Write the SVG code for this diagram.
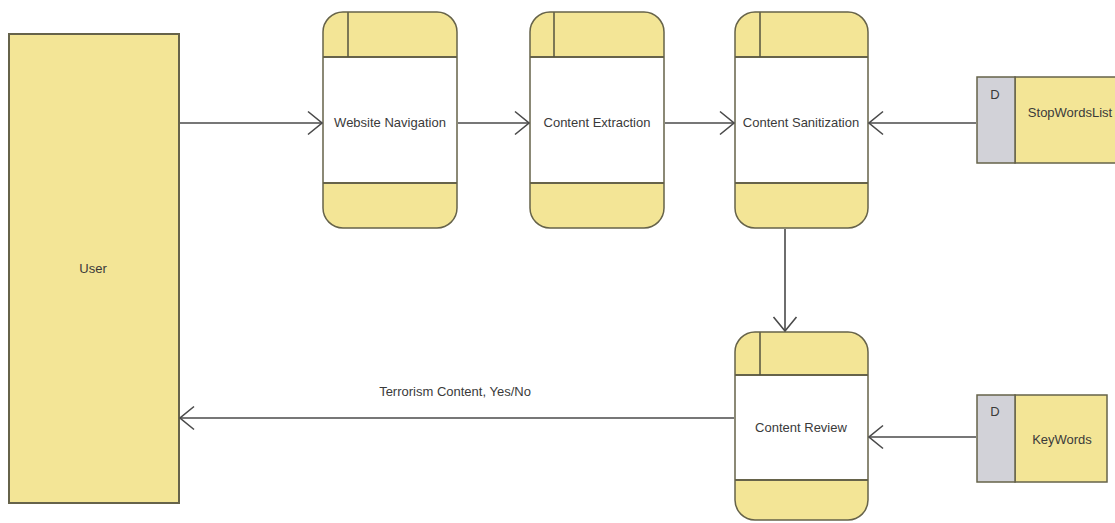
<svg xmlns="http://www.w3.org/2000/svg" width="1115" height="523" viewBox="0 0 1115 523">
  <style>
    .ext { fill: #f3e596; stroke: #66634a; stroke-width: 2; }
    .band { fill: #f3e596; }
    .edge { stroke: #66634a; stroke-width: 2; fill: none; }
    .thin { stroke: #55533e; stroke-width: 1.5; fill: none; }
    .outline { fill: none; stroke: #66634a; stroke-width: 1.5; }
    .ds-id { fill: #d2d2d8; stroke: #66634a; stroke-width: 1.5; }
    .ds-name { fill: #f3e596; stroke: #66634a; stroke-width: 1.5; }
    .lbl { font-family: "Liberation Sans", Arial, sans-serif; font-size: 13px; fill: #3a3a3a; text-anchor: middle; }
    .conn { stroke: #4a4a4a; stroke-width: 1.6; fill: none; }
  </style>
  <defs>
    <!-- open chevron used at the head of every data flow -->
    <marker id="open" viewBox="0 0 16 26" refX="15" refY="13" markerWidth="16" markerHeight="26" markerUnits="userSpaceOnUse" orient="auto">
      <path d="M1,1.5 L15,13 L1,24.5" fill="none" stroke="#4a4a4a" stroke-width="1.6"/>
    </marker>
  </defs>

  <rect width="1115" height="523" fill="#ffffff"/>

  <!-- external entity -->
  <g id="user">
    <rect class="ext" x="9" y="34" width="170" height="469"/>
    <text class="lbl" x="93" y="273">User</text>
  </g>

  <!-- processes -->
  <g id="website-navigation">
    <clipPath id="c1"><rect x="323" y="12" width="134" height="216" rx="20"/></clipPath>
    <g clip-path="url(#c1)">
      <rect x="323" y="12" width="134" height="216" fill="#ffffff"/>
      <rect class="band" x="323" y="12" width="134" height="45"/>
      <rect class="band" x="323" y="183" width="134" height="45"/>
    </g>
    <line class="edge" x1="323" y1="57" x2="457" y2="57"/>
    <line class="edge" x1="323" y1="183" x2="457" y2="183"/>
    <line class="thin" x1="348" y1="12" x2="348" y2="57"/>
    <rect class="outline" x="323" y="12" width="134" height="216" rx="20"/>
    <text class="lbl" x="390" y="127">Website Navigation</text>
  </g>

  <g id="content-extraction">
    <clipPath id="c2"><rect x="530" y="12" width="134" height="216" rx="20"/></clipPath>
    <g clip-path="url(#c2)">
      <rect x="530" y="12" width="134" height="216" fill="#ffffff"/>
      <rect class="band" x="530" y="12" width="134" height="45"/>
      <rect class="band" x="530" y="183" width="134" height="45"/>
    </g>
    <line class="edge" x1="530" y1="57" x2="664" y2="57"/>
    <line class="edge" x1="530" y1="183" x2="664" y2="183"/>
    <line class="thin" x1="554" y1="12" x2="554" y2="57"/>
    <rect class="outline" x="530" y="12" width="134" height="216" rx="20"/>
    <text class="lbl" x="597" y="127">Content Extraction</text>
  </g>

  <g id="content-sanitization">
    <clipPath id="c3"><rect x="735" y="12" width="133" height="216" rx="20"/></clipPath>
    <g clip-path="url(#c3)">
      <rect x="735" y="12" width="133" height="216" fill="#ffffff"/>
      <rect class="band" x="735" y="12" width="133" height="45"/>
      <rect class="band" x="735" y="183" width="133" height="45"/>
    </g>
    <line class="edge" x1="735" y1="57" x2="868" y2="57"/>
    <line class="edge" x1="735" y1="183" x2="868" y2="183"/>
    <line class="thin" x1="760" y1="12" x2="760" y2="57"/>
    <rect class="outline" x="735" y="12" width="133" height="216" rx="20"/>
    <text class="lbl" x="801" y="127">Content Sanitization</text>
  </g>

  <g id="content-review">
    <clipPath id="c4"><rect x="735" y="332" width="133" height="188" rx="20"/></clipPath>
    <g clip-path="url(#c4)">
      <rect x="735" y="332" width="133" height="188" fill="#ffffff"/>
      <rect class="band" x="735" y="332" width="133" height="43"/>
      <rect class="band" x="735" y="479" width="133" height="41"/>
    </g>
    <line class="edge" x1="735" y1="375" x2="868" y2="375"/>
    <line class="edge" x1="735" y1="480" x2="868" y2="480" stroke-width="3"/>
    <line class="thin" x1="760" y1="332" x2="760" y2="375"/>
    <rect class="outline" x="735" y="332" width="133" height="188" rx="20"/>
    <text class="lbl" x="801" y="432">Content Review</text>
  </g>

  <!-- data stores -->
  <g id="stopwordslist">
    <rect class="ds-name" x="1015" y="77" width="110" height="86"/>
    <rect class="ds-id" x="977" y="77" width="38" height="86"/>
    <text class="lbl" x="995" y="99" font-size="12">D</text>
    <text class="lbl" x="1070" y="117">StopWordsList</text>
  </g>

  <g id="keywords">
    <rect class="ds-name" x="1015" y="395" width="92" height="87"/>
    <rect class="ds-id" x="977" y="395" width="38" height="87"/>
    <text class="lbl" x="995" y="416" font-size="12">D</text>
    <text class="lbl" x="1062" y="444">KeyWords</text>
  </g>

  <!-- data flows -->
  <g id="connectors">
    <line class="conn" x1="180" y1="123" x2="322" y2="123" marker-end="url(#open)"/>
    <line class="conn" x1="458" y1="123" x2="529" y2="123" marker-end="url(#open)"/>
    <line class="conn" x1="665" y1="123" x2="734" y2="123" marker-end="url(#open)"/>
    <line class="conn" x1="976" y1="123" x2="869" y2="123" marker-end="url(#open)"/>
    <line class="conn" x1="785" y1="229" x2="785" y2="331" marker-end="url(#open)"/>
    <line class="conn" x1="734" y1="418" x2="180" y2="418" marker-end="url(#open)"/>
    <line class="conn" x1="976" y1="437" x2="869" y2="437" marker-end="url(#open)"/>
    <text class="lbl" x="455" y="396">Terrorism Content, Yes/No</text>
  </g>
</svg>
